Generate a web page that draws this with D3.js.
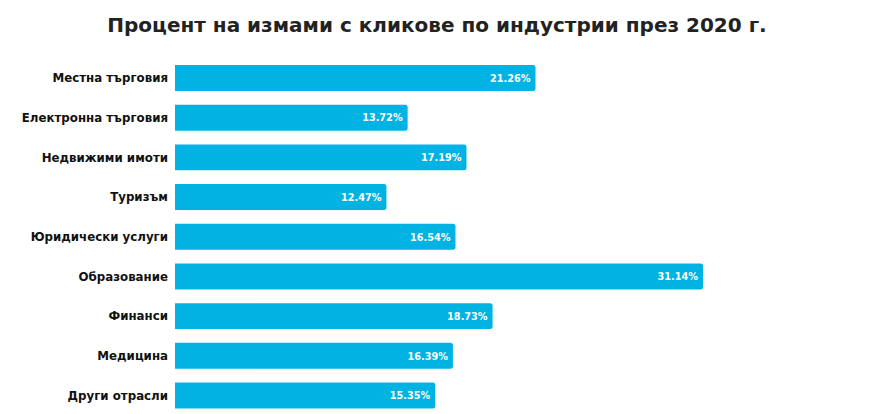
<!DOCTYPE html>
<html><head><meta charset="utf-8">
<script src="https://cdn.jsdelivr.net/npm/d3@7"></script>
<style>body{margin:0;background:#fff;} svg{display:block;}</style>
</head><body>
<svg id="chart" width="872" height="414"></svg>
<script>
const title = "Процент на измами с кликове по индустрии през 2020 г.";
const categories = ["Местна търговия","Електронна търговия","Недвижими имоти","Туризъм","Юридически услуги","Образование","Финанси","Медицина","Други отрасли"];
const values = [21.26,13.72,17.19,12.47,16.54,31.14,18.73,16.39,15.35];

const svg = d3.select("#chart");
const x0 = 175;
const x = d3.scaleLinear().domain([0, 31.14]).range([x0, 703]);
const y = d3.scaleBand().domain(categories).range([65, 408.5]).paddingInner(0.345).paddingOuter(0);

const FONT = "DejaVu Sans, Verdana, sans-serif";
svg.append("text").attr("x", 437).attr("y", 32).attr("text-anchor","middle")
  .attr("font-family",FONT).attr("font-weight",700).attr("font-size",20)
  .attr("fill","#222").text(title);

const data = categories.map((c,i)=>({c, v: values[i]}));
const g = svg.append("g");
g.selectAll("path.bar").data(data).enter().append("path").attr("class","bar")
  .attr("fill","#00b3e3")
  .attr("d", d => {
    const x1 = x(d.v), yt = y(d.c), h = y.bandwidth(), r = 2.5;
    return `M${x0},${yt}H${x1-r}Q${x1},${yt} ${x1},${yt+r}V${yt+h-r}Q${x1},${yt+h} ${x1-r},${yt+h}H${x0}Z`;
  });
g.selectAll("text.val").data(data).enter().append("text").attr("class","val")
  .attr("x", d => x(d.v) - 5).attr("y", d => y(d.c) + y.bandwidth()/2)
  .attr("dy","0.35em").attr("text-anchor","end")
  .attr("font-family","DejaVu Sans Condensed, DejaVu Sans, sans-serif").attr("font-weight",700).attr("font-size",10.8)
  .attr("fill","#fff").text(d => d.v.toFixed(2) + "%");
g.selectAll("text.cat").data(data).enter().append("text").attr("class","cat")
  .attr("x", 168).attr("y", d => y(d.c) + y.bandwidth()/2)
  .attr("dy","0.35em").attr("text-anchor","end")
  .attr("font-family",FONT).attr("font-weight",700).attr("font-size",11.8)
  .attr("fill","#111").text(d => d.c);
</script>
</body></html>
